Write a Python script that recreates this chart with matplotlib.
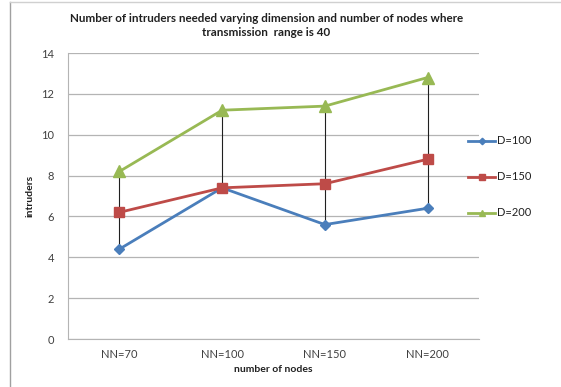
import matplotlib.pyplot as plt
from matplotlib.lines import Line2D

categories = ["NN=70", "NN=100", "NN=150", "NN=200"]
d100 = [4.4, 7.4, 5.6, 6.4]
d150 = [6.2, 7.4, 7.6, 8.8]
d200 = [8.2, 11.2, 11.4, 12.8]
series_labels = ["D=100", "D=150", "D=200"]

COLORS = ["#4a7ebb", "#be4b48", "#98b954"]
MARKERS = ["D", "s", "^"]
MSIZES = [5.5, 7, 8]
GRID = "#b4b4b4"
TEXT = "#404040"

plt.rcParams["font.family"] = ["Lato", "DejaVu Sans"]

fig = plt.figure(figsize=(5.61, 3.87), dpi=100)
ax = fig.add_axes([68 / 561, 1 - 339 / 387, (479 - 68) / 561, (339 - 53) / 387])

x = list(range(len(categories)))
series = [d100, d150, d200]

# high-low drop lines at each category
for xi in x:
    vals = [s[xi] for s in series]
    ax.vlines(xi, min(vals), max(vals), color="#202020", linewidth=0.8, zorder=2)

for vals, c, m, ms, lab in zip(series, COLORS, MARKERS, MSIZES, series_labels):
    ax.plot(x, vals, color=c, linewidth=2, marker=m, markersize=ms,
            markeredgecolor=c, label=lab, zorder=3)

ax.set_xlim(-0.5, 3.5)
ax.set_ylim(0, 14)
ax.set_yticks(range(0, 15, 2))
ax.set_xticks(x)
ax.set_xticklabels(categories)
ax.tick_params(axis="both", labelsize=8, colors=TEXT, length=0)
ax.tick_params(axis="y", pad=10)
ax.tick_params(axis="x", pad=7)
ax.grid(axis="y", color=GRID, linewidth=0.9, zorder=0)
for side in ["top", "right"]:
    ax.spines[side].set_visible(False)
ax.spines["left"].set_color(GRID)
ax.spines["bottom"].set_color(GRID)

ax.set_ylabel("intruders", fontsize=7.5, fontweight="bold", color="#202020", labelpad=5)
ax.set_xlabel("number of nodes", fontsize=7.5, fontweight="bold", color="#202020", labelpad=4)

fig.text(0.475, 1 - 18 / 387, "Number of intruders needed varying dimension and number of nodes where",
         ha="center", va="center", fontsize=8.4, fontweight="bold", color="#202020")
fig.text(0.475, 1 - 33 / 387, "transmission  range is 40",
         ha="center", va="center", fontsize=8.4, fontweight="bold", color="#202020")

# legend entries stacked at the right of the plot area
for i, (c, m, ms, lab) in enumerate(zip(COLORS, MARKERS, MSIZES, series_labels)):
    yy = 1 - (141 + 36 * i) / 387
    fig.add_artist(Line2D([468 / 561, 495 / 561], [yy, yy], color=c, linewidth=2))
    fig.add_artist(Line2D([481.5 / 561], [yy], marker=m, markersize=ms * 0.6,
                          color=c, markeredgecolor=c))
    fig.text(497 / 561, yy, lab, fontsize=8, va="center", ha="left", color="#202020")

# outer frame edges
fig.add_artist(Line2D([10 / 561, 10 / 561], [0, 1 - 2 / 387], color="#a0a0a0", linewidth=1))
fig.add_artist(Line2D([10 / 561, 1], [1 - 2 / 387, 1 - 2 / 387], color="#d0d0d0", linewidth=1))

fig.savefig("out.png", dpi=100)
